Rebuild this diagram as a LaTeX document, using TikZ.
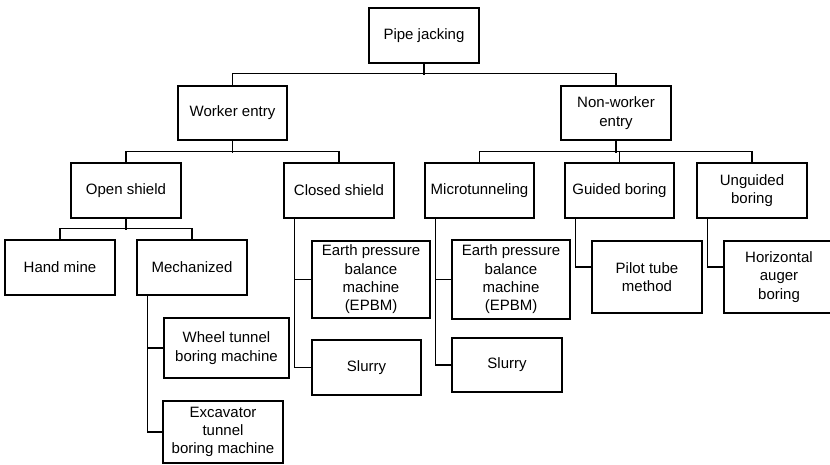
\documentclass[tikz,border=0pt]{standalone}
\usepackage{fontspec}
\setmainfont{Liberation Sans}
\begin{document}
\begin{tikzpicture}[x=1pt,y=-1pt,
  box/.style={draw, line width=1.1pt, inner sep=0pt, align=center,
    font=\fontsize{15}{18.3}\selectfont},
  link/.style={line width=1.1pt}]
\useasboundingbox (0,0) rectangle (830,464);
% level 0
\node[box, minimum width=110pt, minimum height=55pt] (pj) at (424,35.5) {Pipe jacking};
% level 1
\node[box, minimum width=109pt, minimum height=54pt] (we) at (232.5,113) {Worker entry};
\node[box, minimum width=110pt, minimum height=54pt] (nw) at (616,113) {Non-worker\\entry};
% level 2
\node[box, minimum width=110pt, minimum height=55pt] (os) at (126,190.5) {Open shield};
\node[box, minimum width=110pt, minimum height=55pt] (cs) at (339,190.5) {Closed shield};
\node[box, minimum width=109pt, minimum height=55pt] (mt) at (479.5,190.5) {Microtunneling};
\node[box, minimum width=109pt, minimum height=55pt] (gb) at (619.5,190.5) {Guided boring};
\node[box, minimum width=110pt, minimum height=55pt] (ub) at (752,190.5) {Unguided\\boring};
% level 3
\node[box, minimum width=110pt, minimum height=55pt] (hm) at (60,267.5) {Hand mine};
\node[box, minimum width=110pt, minimum height=55pt] (me) at (192,267.5) {Mechanized};
\node[box, minimum width=125pt, minimum height=60pt] (wt) at (226.5,348) {Wheel tunnel\\boring machine};
\node[box, minimum width=120pt, minimum height=62pt] (ex) at (223,432) {Excavator\\tunnel\\boring machine};
\node[box, minimum width=118pt, minimum height=77pt] (ep1) at (371,279.5) {Earth pressure\\balance\\machine\\(EPBM)};
\node[box, minimum width=109pt, minimum height=55pt] (sl1) at (366.5,367.5) {Slurry};
\node[box, minimum width=118pt, minimum height=79pt] (ep2) at (511,279.5) {Earth pressure\\balance\\machine\\(EPBM)};
\node[box, minimum width=110pt, minimum height=54pt] (sl2) at (507,365) {Slurry};
\node[box, minimum width=110pt, minimum height=72pt] (pt) at (647,277) {Pilot tube\\method};
\node[box, minimum width=110pt, minimum height=72pt] (ha) at (779,277) {Horizontal\\auger\\boring};
% connectors
\draw[link] (pj.south) -- ++(0,11);
\draw[link] (we.north) -- ++(0,-12) -| (nw.north);
\draw[link] (we.south) -- ++(0,12);
\draw[link] (os.north) -- ++(0,-11) -| (cs.north);
\draw[link] (nw.south) -- ++(0,12);
\draw[link] (mt.north) -- ++(0,-11) -| (ub.north);
\draw[link] (gb.north) -- ++(0,-11);
\draw[link] (os.south) -- ++(0,11);
\draw[link] (hm.north) -- ++(0,-11) -| (me.north);
\draw[link] ([xshift=11pt]me.south west) |- (wt.west);
\draw[link] ([xshift=11pt]me.south west) |- (ex.west);
\draw[link] ([xshift=11pt]cs.south west) |- (ep1.west);
\draw[link] ([xshift=11pt]cs.south west) |- (sl1.west);
\draw[link] ([xshift=11pt]mt.south west) |- (ep2.west);
\draw[link] ([xshift=11pt]mt.south west) |- (sl2.west);
\draw[link] ([xshift=11pt]gb.south west) |- ([yshift=10pt]pt.west);
\draw[link] ([xshift=11pt]ub.south west) |- ([yshift=10pt]ha.west);
\end{tikzpicture}
\end{document}
